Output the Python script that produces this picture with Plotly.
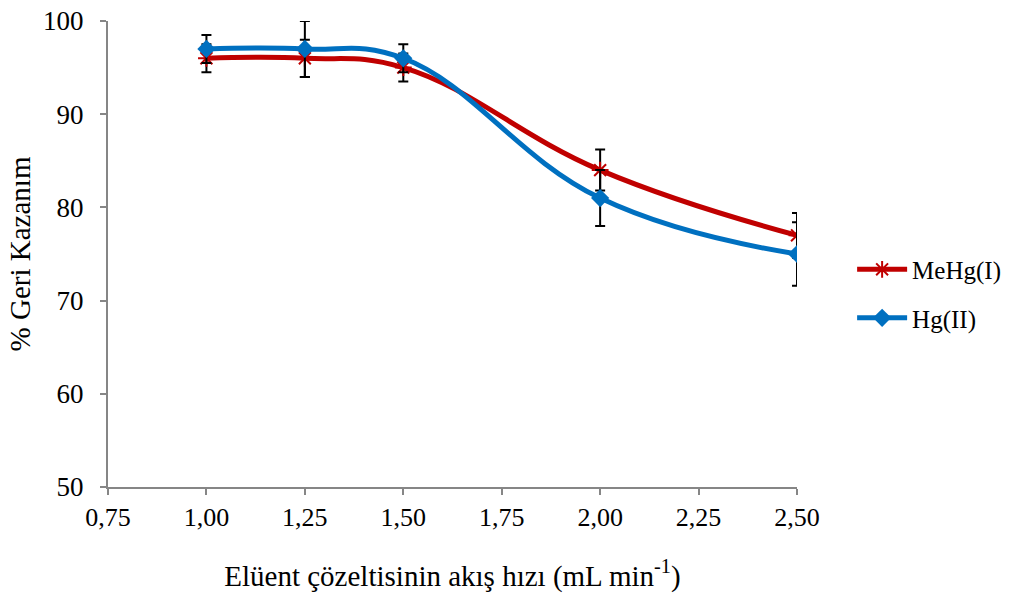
import plotly.graph_objects as go

flow = [1.00, 1.25, 1.50, 2.00, 2.50]
mehg = [96, 96, 95, 84, 77]
mehg_err = [1.5, 2.0, 1.5, 2.2, 2.4]
hg = [97, 97, 96, 81, 75]
hg_err = [1.5, 3.0, 1.5, 3.0, 3.4]

FAM = "Times New Roman, Liberation Serif, serif"

def f(size):
    return dict(family=FAM, size=size, color="black")

fig = go.Figure()
fig.add_trace(go.Scatter(
    x=flow, y=mehg, name="MeHg(I)", mode="lines+markers", legendgroup="a",
    line=dict(color="#C00000", width=5, shape="spline", smoothing=1.2),
    marker=dict(symbol="asterisk-open", size=14, color="#C00000",
                line=dict(color="#C00000", width=2)),
    error_y=dict(type="data", array=mehg_err, visible=True, color="black",
                 thickness=2, width=5),
))
fig.add_trace(go.Scatter(
    x=flow, y=hg, name="Hg(II)", mode="lines+markers", legendgroup="b",
    line=dict(color="#0070C0", width=5, shape="spline", smoothing=1.2),
    marker=dict(symbol="diamond", size=14, color="#0070C0"),
    error_y=dict(type="data", array=hg_err, visible=True, color="black",
                 thickness=2, width=5),
))

fig.update_layout(
    template="none",
    width=1019, height=594,
    margin=dict(l=108, r=222, t=21, b=107),
    plot_bgcolor="white", paper_bgcolor="white",
    separators=",.",
    font=f(26),
    showlegend=True,
    legend=dict(x=1.08, y=0.415, xanchor="left", yanchor="middle",
                font=f(25), traceorder="grouped",
                tracegroupgap=13, itemwidth=50, bgcolor="rgba(0,0,0,0)"),
    xaxis=dict(range=[0.75, 2.5], tickmode="array",
               tickvals=[0.75, 1.0, 1.25, 1.5, 1.75, 2.0, 2.25, 2.5],
               tickformat=".2f", showgrid=False, zeroline=False,
               showline=True, linecolor="#868686", linewidth=2,
               ticks="outside", ticklen=6, tickwidth=2, tickcolor="#868686",
               tickfont=f(26),
               title=dict(text="Elüent çözeltisinin akış hızı (mL min<sup>-1</sup>)",
                          font=f(29), standoff=34)),
    yaxis=dict(range=[50, 100], tickmode="array",
               tickvals=[50, 60, 70, 80, 90, 100],
               showgrid=False, zeroline=False,
               showline=True, linecolor="#868686", linewidth=2,
               ticks="outside", ticklen=6, tickwidth=2, tickcolor="#868686",
               tickfont=f(27), ticklabelstandoff=11,
               title=dict(text="% Geri Kazanım", font=f(29), standoff=4)),
)

fig.write_html("out.html")
